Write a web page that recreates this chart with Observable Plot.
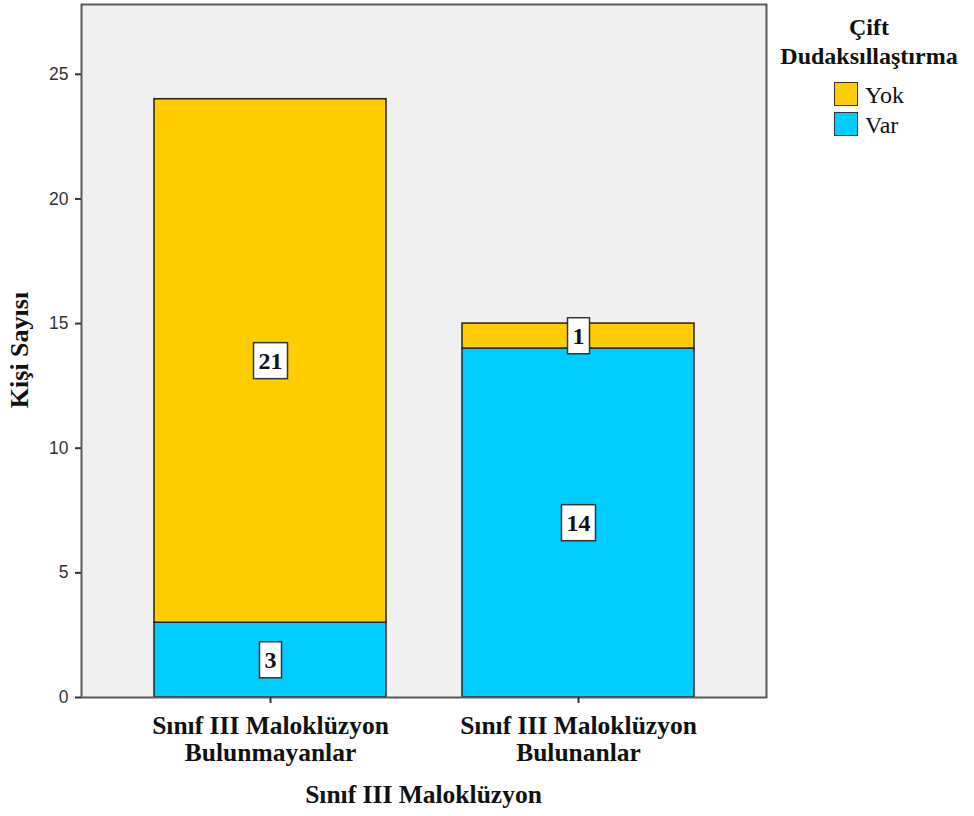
<!DOCTYPE html>
<html>
<head>
<meta charset="utf-8">
<script src="https://cdn.jsdelivr.net/npm/d3@7"></script>
<script src="https://cdn.jsdelivr.net/npm/@observablehq/plot@0.6"></script>
<style>
  body { margin: 0; background: #fff; }
  #wrap { position: relative; width: 974px; height: 816px; overflow: hidden; }
  .serif { font-family: "Liberation Serif", "DejaVu Serif", serif; color: #111; white-space: nowrap; }
  .bold { font-weight: bold; }
  .abs { position: absolute; }
</style>
</head>
<body>
<div id="wrap"></div>
<script>
// ---- data ----
const groups = ["Sınıf III Maloklüzyon Bulunmayanlar", "Sınıf III Maloklüzyon Bulunanlar"];
const groupLines = [["Sınıf III Maloklüzyon", "Bulunmayanlar"], ["Sınıf III Maloklüzyon", "Bulunanlar"]];
const seriesNames = ["Var", "Yok"];          // stacking order, bottom to top
const varValues = [3, 14];
const yokValues = [21, 1];
const seriesColors = ["#00ccff", "#ffcc00"];
const yTicks = [0, 5, 10, 15, 20, 25];
const yMax = 27.8;
const xTitle = "Sınıf III Maloklüzyon";
const yTitle = "Kişi Sayısı";
const legendTitle = ["Çift", "Dudaksıllaştırma"];
const legendOrder = ["Yok", "Var"];

const rows = [];
groups.forEach((g, i) => {
  rows.push({group: g, series: "Var", value: varValues[i]});
  rows.push({group: g, series: "Yok", value: yokValues[i]});
});

const serif = "Liberation Serif, DejaVu Serif, serif";

const chart = Plot.plot({
  width: 974,
  height: 816,
  marginLeft: 81,
  marginRight: 208,
  marginTop: 4,
  marginBottom: 119,
  style: {fontFamily: "Liberation Sans, Arial, sans-serif", fontSize: "17px", background: "white", overflow: "visible"},
  x: {domain: groups, paddingInner: 0.247, paddingOuter: 0.235, label: null},
  y: {domain: [0, yMax], label: null},
  color: {domain: seriesNames, range: seriesColors},
  marks: [
    Plot.frame({fill: "#f0f0f0", stroke: null}),
    Plot.barY(rows, {x: "group", y: "value", fill: "series", z: "series", stroke: "#222", strokeWidth: 1.5, inset: 0}),
    Plot.frame({stroke: "#5a5a5a", strokeWidth: 2}),
    Plot.axisY({ticks: yTicks, tickSize: 6, tickPadding: 7, stroke: "#333", strokeWidth: 2, fill: "#333", fontSize: 17.5, label: null}),
    Plot.axisX({tickSize: 6, tickPadding: 12, stroke: "#333", strokeWidth: 2, fill: "#111",
      fontSize: 25.5, fontFamily: serif, fontWeight: "bold", lineHeight: 1.04,
      tickFormat: d => groupLines[groups.indexOf(d)].join("\n"), label: null}),
    Plot.text(rows, Plot.stackY({x: "group", y: "value", z: "series", text: d => String(d.value),
      fill: "#111", fontSize: 24, fontFamily: serif, fontWeight: "bold"}))
  ]
});

const wrap = document.getElementById("wrap");
wrap.appendChild(chart);

// white boxes behind value labels
const svgNS = "http://www.w3.org/2000/svg";
chart.querySelectorAll('g[aria-label="text"] text').forEach(t => {
  const b = t.getBBox();
  const cy = b.y + b.height / 2;
  const r = document.createElementNS(svgNS, "rect");
  r.setAttribute("x", b.x - 5);
  r.setAttribute("y", cy - 18);
  r.setAttribute("width", b.width + 10);
  r.setAttribute("height", 36);
  r.setAttribute("fill", "white");
  r.setAttribute("stroke", "#333");
  r.setAttribute("stroke-width", 1.5);
  if (t.getAttribute("transform")) r.setAttribute("transform", t.getAttribute("transform"));
  t.parentNode.insertBefore(r, t);
});

// titles
function addDiv(text, cls, css) {
  const d = document.createElement("div");
  d.className = cls;
  d.textContent = text;
  d.style.fontFamily = '"Liberation Serif", "DejaVu Serif", serif';
  Object.assign(d.style, css);
  wrap.appendChild(d);
  return d;
}
addDiv(yTitle, "abs serif bold", {left: "20px", top: "350px", fontSize: "26px", lineHeight: "26px",
  transform: "translate(-50%,-50%) rotate(-90deg)"});
addDiv(xTitle, "abs serif bold", {left: "81px", width: "685px", textAlign: "center", top: "782px",
  fontSize: "25.5px", lineHeight: "25.5px"});

// legend
legendTitle.forEach((line, i) => {
  addDiv(line, "abs serif bold", {left: "769px", width: "200px", textAlign: "center",
    top: (13 + 29 * i) + "px", fontSize: "24px", lineHeight: "29px"});
});
legendOrder.forEach((name, i) => {
  const top = 82 + 30 * i;
  const sw = document.createElement("div");
  Object.assign(sw.style, {position: "absolute", left: "834px", top: top + "px", width: "24px", height: "24px",
    boxSizing: "border-box", border: "1.5px solid #333", background: seriesColors[seriesNames.indexOf(name)]});
  wrap.appendChild(sw);
  addDiv(name, "abs serif", {left: "865px", top: (top + 1) + "px", fontSize: "24px", lineHeight: "24px", fontWeight: "normal"});
});
</script>
</body>
</html>
